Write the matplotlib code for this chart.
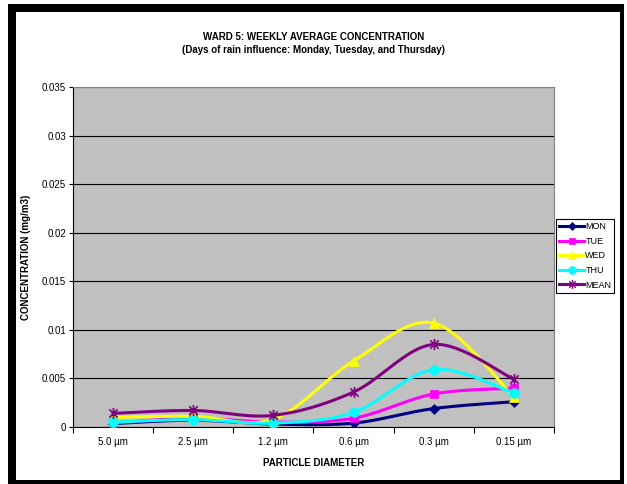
import numpy as np
import matplotlib.pyplot as plt
from matplotlib.patches import Rectangle
from matplotlib.path import Path

plt.rcParams['font.family'] = ['Liberation Sans', 'DejaVu Sans']

categories = ['5.0 µm', '2.5 µm', '1.2 µm', '0.6 µm', '0.3 µm', '0.15 µm']
mon = [0.00035, 0.0007, 0.0003, 0.0004, 0.0019, 0.0026]
tue = [0.0004, 0.0009, 0.0005, 0.0009, 0.0034, 0.0040]
wed = [0.0010, 0.0011, 0.0008, 0.0068, 0.0107, 0.0031]
thu = [0.0005, 0.00076, 0.0004, 0.0015, 0.0059, 0.0035]
mean = [0.0014, 0.0017, 0.0012, 0.0036, 0.0085, 0.0049]
yticks = [0, 0.005, 0.01, 0.015, 0.02, 0.025, 0.03, 0.035]
ytick_labels = ['0', '0.005', '0.01', '0.015', '0.02', '0.025', '0.03', '0.035']

# asterisk marker like excel (vertical line + X)
star = Path([(0, -1), (0, 1), (-0.75, -0.75), (0.75, 0.75), (-0.75, 0.75), (0.75, -0.75)],
            [Path.MOVETO, Path.LINETO, Path.MOVETO, Path.LINETO, Path.MOVETO, Path.LINETO])


def smooth(x, y, n=30):
    # catmull-rom style bezier, like excel smoothed lines
    x = np.asarray(x, float)
    y = np.asarray(y, float)
    xs, ys = [], []
    for i in range(len(x) - 1):
        p0 = np.array([x[max(i - 1, 0)], y[max(i - 1, 0)]])
        p1 = np.array([x[i], y[i]])
        p2 = np.array([x[i + 1], y[i + 1]])
        p3 = np.array([x[min(i + 2, len(x) - 1)], y[min(i + 2, len(x) - 1)]])
        c1 = p1 + (p2 - p0) / 6
        c2 = p2 - (p3 - p1) / 6
        t = np.linspace(0, 1, n)[:, None]
        pts = (1 - t) ** 3 * p1 + 3 * (1 - t) ** 2 * t * c1 + 3 * (1 - t) * t ** 2 * c2 + t ** 3 * p2
        xs.extend(pts[:, 0])
        ys.extend(pts[:, 1])
    return xs, ys


fig = plt.figure(figsize=(6.27, 4.84), dpi=100)
W, H = 627, 484
fig.patches.append(Rectangle((8 / W, 0), 616 / W, 480 / H, transform=fig.transFigure,
                             facecolor='black', edgecolor='none', zorder=-2))
fig.patches.append(Rectangle((16 / W, 4 / H), 604 / W, 468 / H, transform=fig.transFigure,
                             facecolor='white', edgecolor='none', zorder=-1))

ax = fig.add_axes([73 / W, 1 - 427 / H, (554 - 73) / W, (427 - 87) / H])
ax.set_facecolor('#C0C0C0')

x = np.arange(len(categories))
series = [
    ('MON', mon, '#000080', 'D', 5),
    ('TUE', tue, '#FF00FF', 's', 6),
    ('WED', wed, '#FFFF00', '^', 7),
    ('THU', thu, '#00FFFF', 'o', 7),
    ('MEAN', mean, '#800080', star, 8),
]
handles = []
for name, vals, col, mk, ms in series:
    sx, sy = smooth(x, vals)
    ax.plot(sx, sy, color=col, lw=2.2, zorder=3)
    ax.plot(x, vals, linestyle='none', marker=mk, color=col, markersize=ms,
            markeredgewidth=1.2 if mk is star else 0.5, zorder=4)
    h, = ax.plot([], [], color=col, lw=2.2, marker=mk, markersize=ms * 0.8,
                 markeredgewidth=1.0 if mk is star else 0.5)
    handles.append(h)

ax.set_xlim(-0.5, len(categories) - 0.5)
ax.set_ylim(0, 0.035)
ax.set_yticks(yticks)
ax.set_yticklabels(ytick_labels, fontsize=7)
ax.yaxis.grid(True, color='black', lw=0.8)
ax.set_axisbelow(True)
ax.set_xticks(np.arange(-0.5, len(categories), 1))
ax.set_xticklabels([])
ax.set_xticks(x, minor=True)
ax.set_xticklabels(categories, minor=True, fontsize=7)
ax.tick_params(axis='x', which='minor', length=0, pad=7)
ax.tick_params(axis='x', which='major', length=4, width=0.8)
ax.tick_params(axis='y', length=3, width=0.8, pad=2)
for s in ['top', 'right']:
    ax.spines[s].set_color('#808080')
    ax.spines[s].set_linewidth(0.8)
for s in ['left', 'bottom']:
    ax.spines[s].set_color('black')
    ax.spines[s].set_linewidth(0.8)

ax.set_xlabel('PARTICLE DIAMETER', fontsize=7, fontweight='bold', labelpad=8)
ax.set_ylabel('CONCENTRATION (mg/m3)', fontsize=7, fontweight='bold', labelpad=8)

fig.text(0.5 * (73 + 554) / W, 1 - 37 / H, 'WARD 5: WEEKLY AVERAGE CONCENTRATION',
         ha='center', va='center', fontsize=7, fontweight='bold')
fig.text(0.5 * (73 + 554) / W, 1 - 50 / H, '(Days of rain influence: Monday, Tuesday, and Thursday)',
         ha='center', va='center', fontsize=7, fontweight='bold')

leg = fig.legend(handles, [s[0] for s in series], loc='upper left',
                 bbox_to_anchor=(556 / W, 1 - 219 / H), fontsize=6.5,
                 frameon=True, fancybox=False, edgecolor='black', framealpha=1,
                 handlelength=2.8, handletextpad=0.1, labelspacing=0.62,
                 borderpad=0.35, borderaxespad=0)
leg.get_frame().set_linewidth(0.8)

fig.savefig('out.png', dpi=100)
